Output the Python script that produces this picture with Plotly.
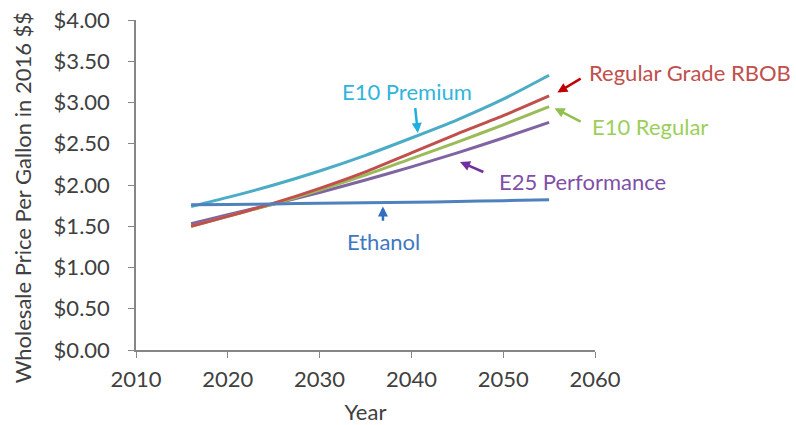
import plotly.graph_objects as go

years = [2016, 2020, 2025, 2030, 2035, 2040, 2045, 2050, 2055]
e10_premium = [1.74, 1.85, 2.00, 2.17, 2.36, 2.57, 2.79, 3.04, 3.33]
rbob = [1.50, 1.62, 1.78, 1.96, 2.16, 2.39, 2.62, 2.84, 3.08]
e10_regular = [1.50, 1.62, 1.77, 1.94, 2.12, 2.32, 2.52, 2.73, 2.95]
e25_perf = [1.53, 1.64, 1.77, 1.91, 2.06, 2.22, 2.39, 2.57, 2.76]
ethanol = [1.76, 1.765, 1.77, 1.78, 1.785, 1.79, 1.80, 1.81, 1.82]

y_ticks = [0, 0.5, 1, 1.5, 2, 2.5, 3, 3.5, 4]
y_labels = ["$%.2f" % v for v in y_ticks]
x_ticks = [2010, 2020, 2030, 2040, 2050, 2060]

FONT = "Lato"
FS = 22

fig = go.Figure()
series = [
    ("E25 Performance", e25_perf, "#8064A2"),
    ("E10 Regular", e10_regular, "#9BBB59"),
    ("Regular Grade RBOB", rbob, "#C0504D"),
    ("E10 Premium", e10_premium, "#4BACC6"),
    ("Ethanol", ethanol, "#4F81BD"),
]
for name, vals, col in series:
    fig.add_trace(go.Scatter(x=years, y=vals, mode="lines", name=name,
                             line=dict(color=col, width=3, shape="spline",
                                       smoothing=0.6)))

# label positions in paper coordinates (plot area = [0,1] x [0,1])
labels = [
    ("E10 Premium", 0.590, 0.782, "#31B4DC"),
    ("Regular Grade RBOB", 1.207, 0.842, "#C0504D"),
    ("E10 Regular", 1.120, 0.676, "#9BCF5A"),
    ("E25 Performance", 0.972, 0.512, "#7F4FA8"),
    ("Ethanol", 0.540, 0.330, "#3E78C2"),
]
for t, x, y, c in labels:
    fig.add_annotation(x=x, y=y, xref="paper", yref="paper", text=t,
                       showarrow=False, xanchor="center", yanchor="middle",
                       font=dict(family=FONT, size=FS, color=c))

arrows = [
    # tail x, tail y, head x, head y, color
    (2040.4, 2.95, 2040.7, 2.63, "#1FAEE0"),
    (2058.6, 3.30, 2055.9, 3.12, "#C00000"),
    (2058.6, 2.76, 2055.6, 2.93, "#92C050"),
    (2048.0, 2.15, 2045.3, 2.28, "#7030A0"),
    (2036.9, 1.55, 2036.9, 1.74, "#2F6FBF"),
]
for tx, ty, hx, hy, c in arrows:
    fig.add_annotation(x=hx, y=hy, ax=tx, ay=ty, xref="x", yref="y",
                       axref="x", ayref="y", text="", showarrow=True,
                       arrowhead=2, arrowsize=0.8, arrowwidth=2.5,
                       arrowcolor=c)

# y-axis title as rotated annotation (sits slightly below the axis centre)
fig.add_annotation(x=-0.248, y=0.46, xref="paper", yref="paper",
                   text="Wholesale Price Per Gallon in 2016 $$",
                   textangle=-90, showarrow=False, xanchor="center",
                   yanchor="middle", font=dict(family=FONT, size=FS,
                                               color="#404040"))

fig.update_layout(
    width=796, height=425,
    margin=dict(l=136, r=201, t=20, b=75),
    paper_bgcolor="white", plot_bgcolor="white",
    showlegend=False,
    font=dict(family=FONT, size=FS, color="#404040"),
)
fig.update_xaxes(range=[2010, 2060], tickvals=x_ticks, showgrid=False,
                 showline=True, linecolor="#868686", linewidth=1.5,
                 ticks="outside", ticklen=6, tickcolor="#868686",
                 zeroline=False, automargin=False, ticklabelstandoff=3,
                 title=dict(text="Year", font=dict(size=FS), standoff=16))
fig.update_yaxes(range=[0, 4], tickvals=y_ticks, ticktext=y_labels,
                 showgrid=False, showline=True, linecolor="#868686",
                 linewidth=1.5, ticks="outside", ticklen=6,
                 tickcolor="#868686", zeroline=False, automargin=False,
                 ticklabelstandoff=14)

fig.write_html("out.html", config={"displayModeBar": False},
               post_script="document.body.style.margin='0px';")
